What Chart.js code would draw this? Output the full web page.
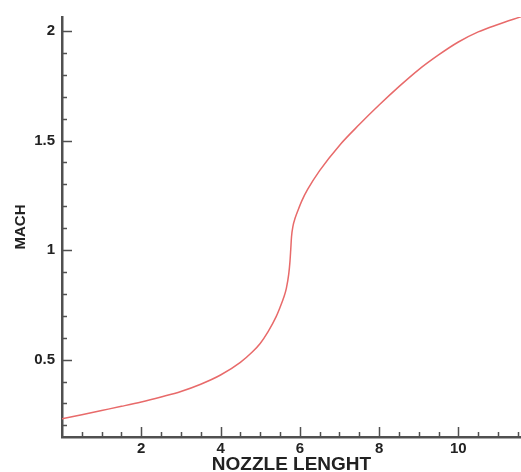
<!DOCTYPE html>
<html>
<head>
<meta charset="utf-8">
<script src="https://cdn.jsdelivr.net/npm/chart.js@4/dist/chart.umd.min.js"></script>
<style>
  html, body { margin: 0; padding: 0; background: #fff; }
  #wrap { width: 521px; height: 472px; position: relative; }
</style>
</head>
<body>
<div id="wrap"><canvas id="c"></canvas></div>
<script>
'use strict';
// Nombre de Mach le long de la tuyère
const LENGTH = [0, 0.5, 1, 1.5, 2, 2.5, 3, 3.5, 4, 4.5, 4.8, 5, 5.2, 5.4, 5.5, 5.6, 5.66, 5.72, 5.75, 5.77, 5.79, 5.83, 5.88, 5.95, 6.05, 6.2, 6.5, 7, 7.5, 8, 8.5, 9, 9.5, 10, 10.5, 11, 11.58];
const MACH   = [0.23, 0.249, 0.268, 0.287, 0.307, 0.33, 0.355, 0.388, 0.43, 0.488, 0.535, 0.574, 0.628, 0.695, 0.738, 0.787, 0.825, 0.89, 0.945, 1.0, 1.06, 1.112, 1.145, 1.18, 1.225, 1.278, 1.363, 1.478, 1.573, 1.662, 1.746, 1.824, 1.891, 1.95, 1.996, 2.03, 2.065];
const X_TICKS = [2, 4, 6, 8, 10];
const Y_TICKS = [0.5, 1, 1.5, 2];
const X_MIN = 0, X_MAX = 11.58, Y_MIN = 0.147, Y_MAX = 2.064;

const AXIS = '#505050';
const FONT = 'Arial, "Liberation Sans", sans-serif';

// ticks intérieurs (majeurs + mineurs)
const innerTicks = {
  id: 'innerTicks',
  afterDraw(chart) {
    const { ctx, chartArea: a, scales: { x, y } } = chart;
    ctx.save();
    ctx.strokeStyle = AXIS; ctx.lineWidth = 1.5;
    ctx.beginPath();
    for (let v = 0.5; v < X_MAX; v += 0.5) {
      const px = Math.round(x.getPixelForValue(v)) + 0.5;
      const len = X_TICKS.includes(v) ? 10 : 5;
      ctx.moveTo(px, a.bottom); ctx.lineTo(px, a.bottom - len);
    }
    for (let k = 2; k * 0.1 < Y_MAX; k++) {
      const py = Math.round(y.getPixelForValue(k / 10)) + 0.5;
      const len = k % 5 === 0 ? 10 : 5;
      ctx.moveTo(a.left, py); ctx.lineTo(a.left + len, py);
    }
    ctx.stroke();
    ctx.restore();
  }
};

new Chart(document.getElementById('c').getContext('2d'), {
  type: 'line',
  data: {
    datasets: [{
      data: LENGTH.map((v, i) => ({ x: v, y: MACH[i] })),
      borderColor: '#e86a6a', borderWidth: 1.5, pointRadius: 0,
      cubicInterpolationMode: 'monotone', fill: false,
    }]
  },
  options: {
    responsive: true, maintainAspectRatio: false, animation: false,
    layout: { padding: { top: 17, right: 0, left: 0, bottom: 0 } },
    plugins: { legend: { display: false }, tooltip: { enabled: false } },
    scales: {
      x: {
        type: 'linear', min: X_MIN, max: X_MAX,
        grid: { display: false, drawTicks: false },
        border: { display: true, color: AXIS, width: 2.5 },
        afterBuildTicks: s => { s.ticks = X_TICKS.map(v => ({ value: v })); },
        afterFit: s => { s.height = 35; },
        ticks: { color: '#222', padding: 3, maxRotation: 0, autoSkip: false, callback: v => String(v), font: { family: FONT, size: 15, weight: 'bold' } },
        title: { display: true, text: 'NOZZLE LENGHT', color: '#222', padding: { top: 0, bottom: -4 }, font: { family: FONT, size: 19, weight: 'bold' } },
      },
      y: {
        type: 'linear', min: Y_MIN, max: Y_MAX,
        grid: { display: false, drawTicks: false },
        border: { display: true, color: AXIS, width: 2.5 },
        afterBuildTicks: s => { s.ticks = Y_TICKS.map(v => ({ value: v })); },
        afterFit: s => { s.width = 62; },
        ticks: { color: '#222', padding: 7, autoSkip: false, callback: v => String(v), font: { family: FONT, size: 15, weight: 'bold' } },
        title: { display: true, text: 'MACH', color: '#222', padding: { top: 12, bottom: 0 }, font: { family: FONT, size: 15, weight: 'bold' } },
      }
    }
  },
  plugins: [innerTicks]
});
</script>
</body>
</html>
